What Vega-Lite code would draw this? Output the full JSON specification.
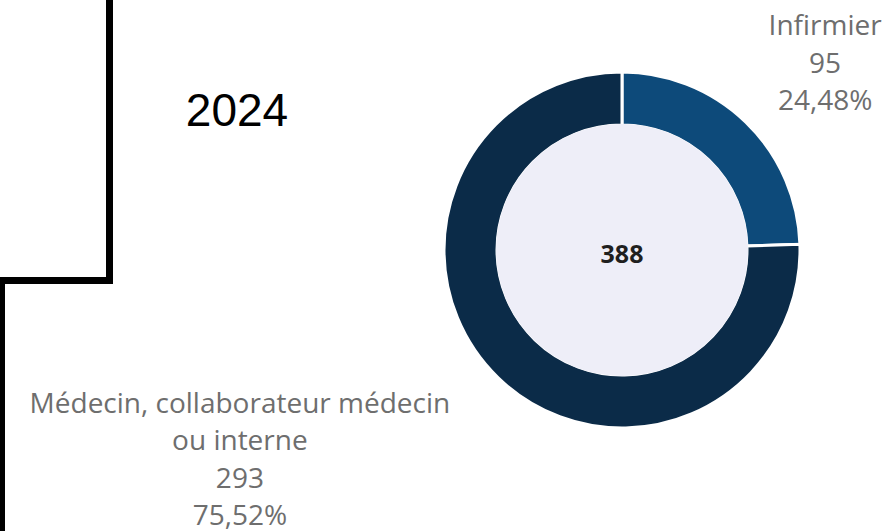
{
  "$schema": "https://vega.github.io/schema/vega-lite/v6.json",
  "autosize": "none",
  "width": 538,
  "height": 500,
  "padding": {"left": 353, "top": 0, "right": 0, "bottom": 31},
  "background": "white",
  "view": {"stroke": null},
  "datasets": {
    "slices": [
      {"category": "Infirmier", "count": 95, "pct": "24,48%"},
      {"category": "Médecin, collaborateur médecin ou interne", "count": 293, "pct": "75,52%"}
    ],
    "summary": [{"year": "2024", "total": 388}],
    "frame": [
      {"x": 109.5, "y": -10, "x2": 109.5, "y2": 284},
      {"x": -10, "y": 280.5, "x2": 113, "y2": 280.5},
      {"x": 1.5, "y": 277, "x2": 1.5, "y2": 545}
    ]
  },
  "layer": [
    {
      "data": {"name": "frame"},
      "mark": {"type": "rule", "color": "black", "strokeWidth": 7, "strokeCap": "butt"},
      "encoding": {
        "x": {"field": "x", "type": "quantitative", "scale": {"domain": [353, 891], "nice": false, "zero": false}, "axis": null},
        "x2": {"field": "x2"},
        "y": {"field": "y", "type": "quantitative", "scale": {"domain": [0, 500], "nice": false, "zero": false, "reverse": true}, "axis": null},
        "y2": {"field": "y2"}
      }
    },
    {
      "data": {"name": "slices"},
      "mark": {"type": "arc", "outerRadius": 178, "innerRadius": 125, "stroke": "white", "strokeWidth": 3},
      "encoding": {
        "theta": {"field": "count", "type": "quantitative", "stack": true},
        "order": {"field": "count", "sort": "ascending"},
        "color": {
          "field": "category",
          "type": "nominal",
          "scale": {"domain": ["Infirmier", "Médecin, collaborateur médecin ou interne"], "range": ["#0d4a7a", "#0b2b48"]},
          "legend": null
        }
      }
    },
    {
      "data": {"name": "summary"},
      "mark": {"type": "arc", "outerRadius": 126, "innerRadius": 0, "fill": "#eeeef8"},
      "encoding": {
        "theta": {"field": "total", "type": "quantitative"}
      }
    },
    {
      "data": {"name": "summary"},
      "mark": {"type": "text", "font": "Open Sans", "fontSize": 25, "fontWeight": "bold", "color": "#1f1f1f", "align": "center", "baseline": "alphabetic", "dy": 13},
      "encoding": {"text": {"field": "total", "type": "quantitative"}}
    },
    {
      "data": {"name": "summary"},
      "mark": {"type": "text", "font": "Liberation Sans", "fontSize": 46, "color": "black", "align": "center", "baseline": "alphabetic", "dx": -385, "dy": -124},
      "encoding": {"text": {"field": "year", "type": "nominal"}}
    },
    {
      "data": {"name": "slices"},
      "transform": [
        {"calculate": "replace(datum.category, ' ou ', '\\nou ') + '\\n' + datum.count + '\\n' + datum.pct", "as": "label"}
      ],
      "mark": {"type": "text", "font": "Open Sans", "fontSize": 28, "lineHeight": 37.5, "color": "#6e6e6e", "align": "center", "baseline": "alphabetic", "lineBreak": "\n", "radius": 200, "dx": 64, "dy": -71},
      "encoding": {
        "theta": {"field": "count", "type": "quantitative", "stack": true},
        "order": {"field": "count", "sort": "ascending"},
        "text": {"field": "label", "type": "nominal"},
        "opacity": {"condition": {"test": "datum.category === 'Infirmier'", "value": 1}, "value": 0}
      }
    },
    {
      "data": {"name": "slices"},
      "transform": [
        {"calculate": "replace(datum.category, ' ou ', '\\nou ') + '\\n' + datum.count + '\\n' + datum.pct", "as": "label"}
      ],
      "mark": {"type": "text", "font": "Open Sans", "fontSize": 28, "lineHeight": 37.5, "color": "#6e6e6e", "align": "center", "baseline": "alphabetic", "lineBreak": "\n", "radius": 200, "dx": -243, "dy": 19},
      "encoding": {
        "theta": {"field": "count", "type": "quantitative", "stack": true},
        "order": {"field": "count", "sort": "ascending"},
        "text": {"field": "label", "type": "nominal"},
        "opacity": {"condition": {"test": "datum.category !== 'Infirmier'", "value": 1}, "value": 0}
      }
    }
  ]
}
